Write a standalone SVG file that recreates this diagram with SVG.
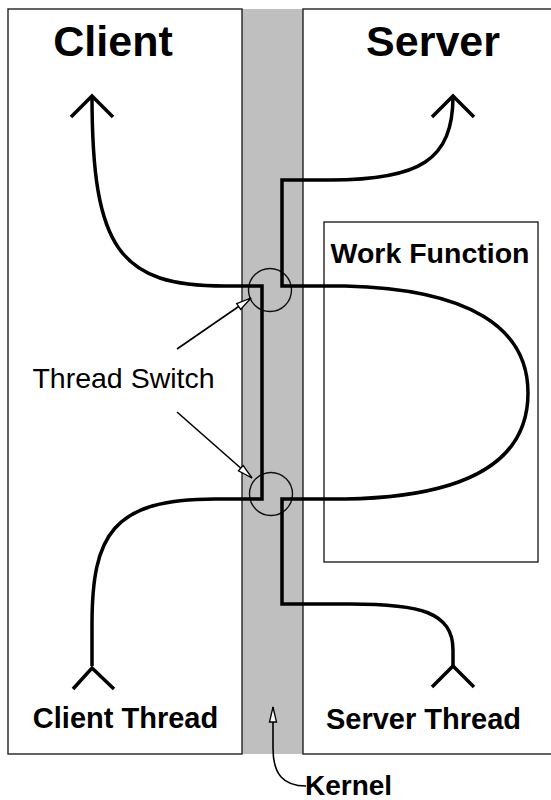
<svg xmlns="http://www.w3.org/2000/svg" width="551" height="800" viewBox="0 0 551 800">
  <defs>
    <style>
      .box { fill: #ffffff; stroke: #222222; stroke-width: 1.4; }
      .kernel { fill: #bfbfbf; stroke: none; }
      .thread { fill: none; stroke: #000000; stroke-width: 3.5; stroke-linejoin: miter; }
      .head { fill: none; stroke: #000000; stroke-width: 3.5; stroke-linecap: butt; }
      .ring { fill: none; stroke: #111111; stroke-width: 1.4; }
      .pointer { fill: none; stroke: #000000; stroke-width: 1.6; }
      .bold { font-family: "Liberation Sans", Arial, sans-serif; font-weight: bold; fill: #000000; }
      .plain { font-family: "Liberation Sans", Arial, sans-serif; fill: #000000; }
    </style>
    <marker id="open-tri" markerUnits="userSpaceOnUse" viewBox="0 0 17 10" refX="16" refY="5" markerWidth="17" markerHeight="10" orient="auto">
      <path d="M1,1.5 L16,5 L1,8.5 Z" fill="#ffffff" stroke="#000000" stroke-width="1.3"/>
    </marker>
  </defs>

  <!-- kernel band between the two address spaces -->
  <rect id="kernel-band" class="kernel" x="242" y="9" width="61" height="745"/>

  <g id="client">
    <rect class="box" x="8" y="9" width="234" height="745"/>
    <text class="bold" x="113" y="56" font-size="43" text-anchor="middle">Client</text>
    <text class="bold" x="125.5" y="728" font-size="29" text-anchor="middle">Client Thread</text>
  </g>

  <g id="server">
    <rect class="box" x="303" y="9" width="260" height="745"/>
    <text class="bold" x="433" y="56" font-size="43" text-anchor="middle">Server</text>
    <text class="bold" x="423.5" y="729" font-size="29" text-anchor="middle">Server Thread</text>
  </g>

  <g id="work-function">
    <rect class="box" x="324" y="222" width="214" height="340"/>
    <text class="bold" x="430" y="263" font-size="28.5" text-anchor="middle">Work Function</text>
  </g>

  <g id="thread-switch-label">
    <text class="plain" x="123.5" y="388" font-size="28.5" text-anchor="middle">Thread Switch</text>
  </g>

  <g id="kernel-label">
    <text class="bold" x="305" y="795" font-size="28">Kernel</text>
  </g>

  <g id="switch-points">
    <circle class="ring" cx="270" cy="290" r="21.5"/>
    <circle class="ring" cx="271" cy="494" r="21.5"/>
  </g>

  <g id="connectors">
    <!-- client thread: enters the kernel, blocks, and returns upward -->
    <path class="thread" d="M92,666 V625 C92,535 112,499 215,499 H262 V286 H225 C120,286 92,250 92,96"/>
    <polyline class="head" points="71,117 92,96 113,117"/>
    <polyline class="head" points="73,689 92,668 114,689"/>

    <!-- server thread: waits in the kernel, runs the work function, replies -->
    <path class="thread" d="M453,666 V650 C453,612 420,604 350,604 H282 V499 H345 C470,497 528,460 528,393 C528,328 470,289 345,286 H282 V180 H330 C420,180 453,160 453,96"/>
    <polyline class="head" points="432,117 453,96 474,117"/>
    <polyline class="head" points="432,687 453,666 474,687"/>

    <!-- thread switch pointers -->
    <line class="pointer" x1="177" y1="349" x2="251" y2="298" marker-end="url(#open-tri)"/>
    <line class="pointer" x1="177" y1="412" x2="252" y2="478" marker-end="url(#open-tri)"/>

    <!-- kernel pointer -->
    <path class="pointer" d="M306,786 C283,786 273,774 273,748 V707" marker-end="url(#open-tri)"/>
  </g>
</svg>
